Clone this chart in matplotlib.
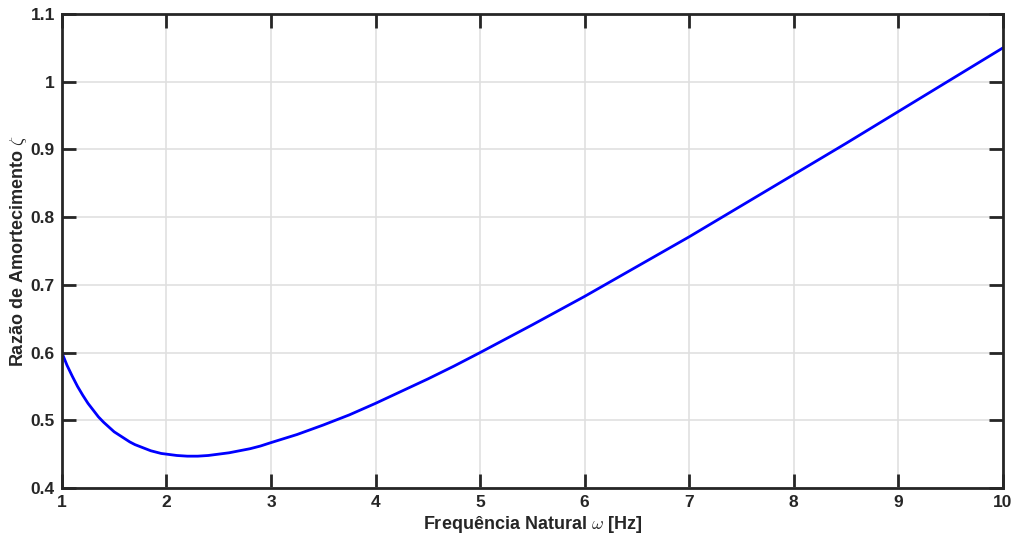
import numpy as np
import matplotlib
matplotlib.use("Agg")
import matplotlib.pyplot as plt

# Razão de amortecimento lida em função da frequência natural
omega = [1.0, 1.05, 1.1, 1.15, 1.2, 1.25, 1.3, 1.35, 1.4, 1.45, 1.5, 1.55,
         1.6, 1.65, 1.7, 1.75, 1.8, 1.85, 1.9, 1.95, 2.0, 2.1, 2.2, 2.3,
         2.4, 2.5, 2.6, 2.7, 2.8, 2.9, 3.0, 3.25, 3.5, 3.75, 4.0, 4.25, 4.5,
         4.75, 5.0, 5.5, 6.0, 6.5, 7.0, 7.5, 8.0, 8.5, 9.0, 9.5, 10.0]
zeta = [0.600, 0.581, 0.565, 0.550, 0.537, 0.525, 0.515, 0.505, 0.497, 0.490,
        0.483, 0.478, 0.473, 0.468, 0.464, 0.461, 0.458, 0.455, 0.453, 0.451,
        0.450, 0.448, 0.447, 0.447, 0.448, 0.450, 0.452, 0.455, 0.458, 0.462,
        0.467, 0.479, 0.493, 0.508, 0.525, 0.543, 0.561, 0.580, 0.600, 0.641,
        0.683, 0.727, 0.771, 0.817, 0.863, 0.909, 0.956, 1.003, 1.050]

xticks = [1, 2, 3, 4, 5, 6, 7, 8, 9, 10]
yticks = [0.4, 0.5, 0.6, 0.7, 0.8, 0.9, 1.0, 1.1]
ytick_labels = ["0.4", "0.5", "0.6", "0.7", "0.8", "0.9", "1", "1.1"]

plt.rcParams['font.family'] = ['Liberation Sans', 'DejaVu Sans']
plt.rcParams['mathtext.fontset'] = 'cm'

fig = plt.figure(figsize=(10.14, 5.41), dpi=100)
ax = fig.add_axes([0.061, 0.098, 0.928, 0.876])

ax.plot(omega, zeta, color='#0000ff', linewidth=2)

ax.set_xlim(1, 10)
ax.set_ylim(0.4, 1.1)
ax.set_xticks(xticks)
ax.set_yticks(yticks)
ax.set_yticklabels(ytick_labels)

# Estilo tipo MATLAB: caixa, ticks para dentro, grade clara
ax.grid(True, color='#e0e0e0', linewidth=1.2)
ax.set_axisbelow(True)
for s in ax.spines.values():
    s.set_color('#262626')
    s.set_linewidth(2)
ax.tick_params(direction='in', length=10, width=2, color='#262626',
               top=True, right=True, labelsize=12.5, labelcolor='#262626', pad=5)
for lbl in ax.get_xticklabels() + ax.get_yticklabels():
    lbl.set_fontweight('bold')

ax.set_xlabel(r"Frequência Natural $\omega$ [Hz]", fontsize=13,
              fontweight='bold', color='#262626', labelpad=3)
ax.set_ylabel(r"Razão de Amortecimento $\zeta$", fontsize=13,
              fontweight='bold', color='#262626', labelpad=1)

fig.savefig("out.png", dpi=100)
